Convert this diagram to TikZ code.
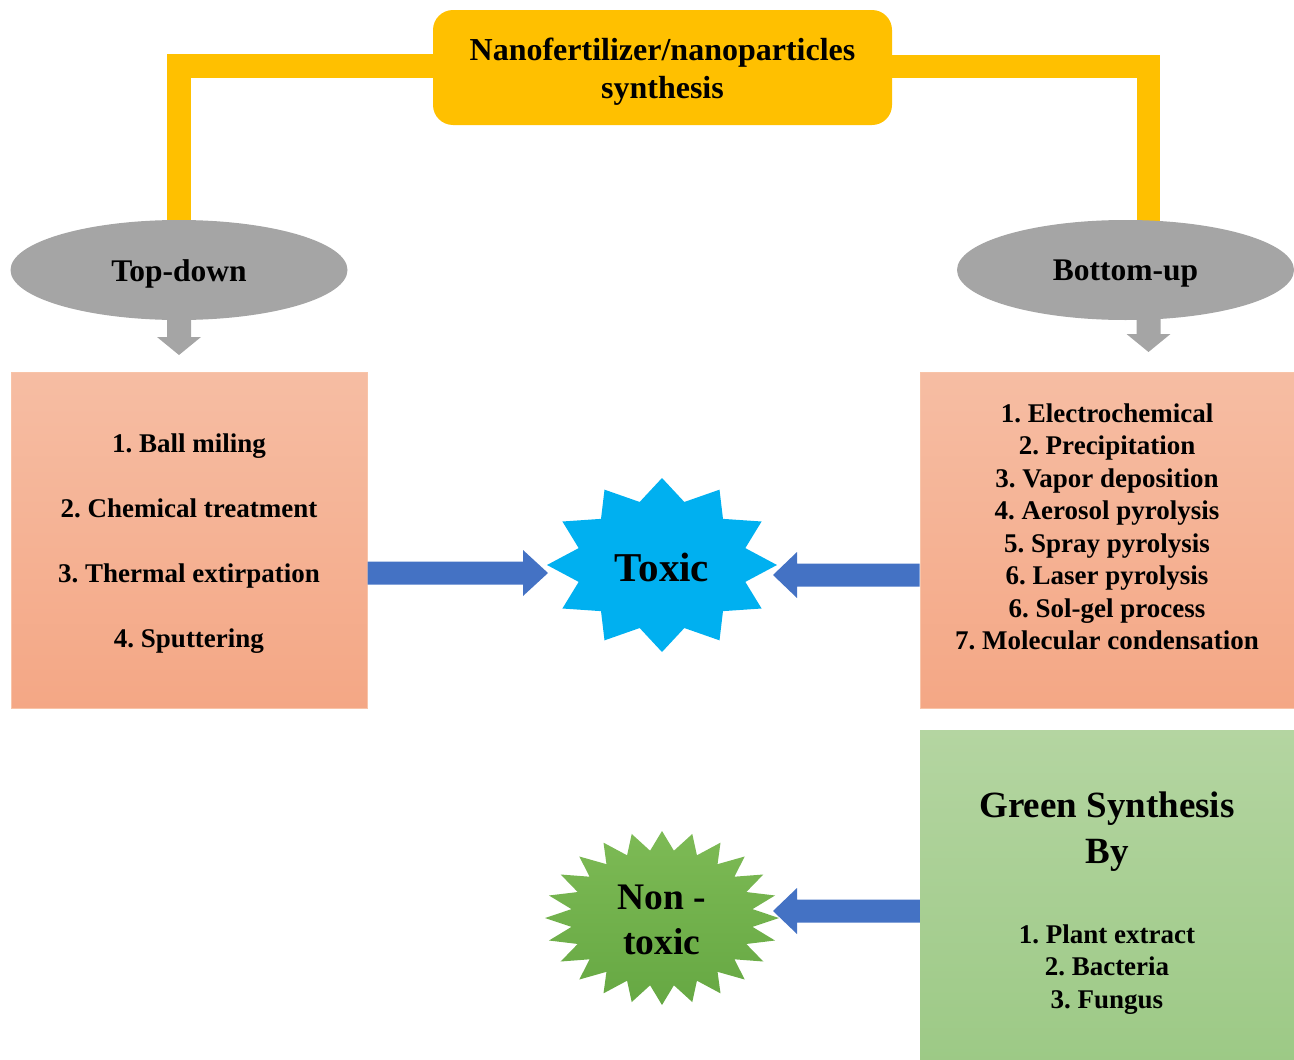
\documentclass[tikz,border=0pt]{standalone}
\usepackage{fontspec}
\setmainfont{Liberation Serif}
\frenchspacing
\usetikzlibrary{shapes.geometric,calc,backgrounds}
\definecolor{gold}{HTML}{FFC000}
\definecolor{ellgrey}{HTML}{A5A5A5}
\definecolor{orangetop}{HTML}{F6BDA3}
\definecolor{orangebot}{HTML}{F4A785}
\definecolor{orangeedge}{HTML}{F8C4A8}
\definecolor{arrowblue}{HTML}{4472C4}
\definecolor{toxicblue}{HTML}{00B0F0}
\definecolor{greentop}{HTML}{B4D5A1}
\definecolor{greenbot}{HTML}{9CC985}
\definecolor{startop}{HTML}{7DBA55}
\definecolor{starbot}{HTML}{66A843}
% horizontal block arrow: style, from, tip, signed head length
\newcommand\hblockarrow[4]{%
  \fill[#1] let \p1=(#2), \p2=(#3) in
    (\x1,\y1+11.5pt) -- ({\x2-(#4)},\y1+11.5pt) -- ({\x2-(#4)},\y1+23pt) -- (\x2,\y1)
    -- ({\x2-(#4)},\y1-23pt) -- ({\x2-(#4)},\y1-11.5pt) -- (\x1,\y1-11.5pt) -- cycle;}
% downward block arrow: from, tip
\newcommand\vblockarrow[2]{%
  \fill[ellgrey] let \p1=(#1), \p2=(#2) in
    (\x1-12pt,\y1) -- (\x1-12pt,\y2+18pt) -- (\x1-22pt,\y2+18pt) -- (\x1,\y2)
    -- (\x1+22pt,\y2+18pt) -- (\x1+12pt,\y2+18pt) -- (\x1+12pt,\y1) -- cycle;}
\begin{document}
\begin{tikzpicture}[x=1pt,y=-1pt,
  goldbar/.style={draw=gold,line width=24pt,line join=miter},
  titlebox/.style={fill=gold,rounded corners=20pt,minimum width=459pt,minimum height=115pt,
    inner sep=0pt},
  titletext/.style={align=center,inner sep=0pt,font={\fontsize{32}{38}\selectfont\bfseries}},
  ellip/.style={ellipse,fill=ellgrey,minimum width=337pt,minimum height=100pt,inner sep=0pt},
  elliptext/.style={inner sep=0pt,font={\fontsize{31.5}{36}\selectfont\bfseries}},
  methodbox/.style={rectangle,draw=orangeedge,line width=1pt,top color=orangetop,
    bottom color=orangebot,minimum height=336pt,inner sep=0pt},
  greenbox/.style={rectangle,top color=greentop,bottom color=greenbot,minimum width=374pt,
    minimum height=340pt,inner sep=0pt},
  listtext/.style={align=center,inner sep=0pt,font={\fontsize{27}{32.5}\selectfont\bfseries}},
  headtext/.style={align=center,inner sep=0pt,font={\fontsize{37}{46}\selectfont\bfseries}},
  startext/.style={align=center,inner sep=0pt,font={\fontsize{41}{45}\selectfont\bfseries}},
]
\useasboundingbox (0,0) rectangle (1294,1060);

% nodes
\node[titlebox] (title) at (662.5,67.5) {};
\node[titletext] (titlet) at (662.5,71.5) {Nanofertilizer/nanoparticles\\synthesis};
\node[ellip] (topdown) at (179,270) {};
\node[elliptext] (topdownt) at (179,274) {Top-down};
\node[ellip] (bottomup) at (1125.5,270) {};
\node[elliptext] (bottomupt) at (1125.5,274) {Bottom-up};
\node[methodbox,minimum width=356pt] (lbox) at (189,540) {};
\node[methodbox,minimum width=374pt] (rbox) at (1107,540) {};
\node[greenbox] (gbox) at (1107,900) {};

\node[listtext,font={\fontsize{27}{65}\selectfont\bfseries}] (ltext) at (189,544)
  {1. Ball miling\\2. Chemical treatment\\3. Thermal extirpation\\4. Sputtering};
\node[listtext] (rtext) at (1107,527)
  {1. Electrochemical\\2. Precipitation\\3. Vapor deposition\\4. Aerosol pyrolysis\\
   5. Spray pyrolysis\\6. Laser pyrolysis\\6. Sol-gel process\\7. Molecular condensation};
\node[headtext] (ghead) at (1107,832) {Green Synthesis\\By};
\node[listtext] (glist) at (1107,969.5) {1. Plant extract\\2. Bacteria\\3. Fungus};

% stars
\fill[toxicblue] plot[samples at={0,...,23},variable=\k]
  ({662+115*(1-0.25*mod(\k,2))*cos(90+15*\k)},{565-87*(1-0.25*mod(\k,2))*sin(90+15*\k)}) -- cycle;
\node[startext] (toxic) at (662,567) {Toxic};
\shade[top color=startop,bottom color=starbot] plot[samples at={0,...,47},variable=\k]
  ({662+117*(1-0.22*mod(\k,2))*cos(90+7.5*\k)},{918-87*(1-0.22*mod(\k,2))*sin(90+7.5*\k)}) -- cycle;
\node[startext,font={\fontsize{37.5}{45}\selectfont\bfseries}] (nontoxic) at (662,920) {Non -\\toxic};

% connector end points
\coordinate (toxicW) at (548,573);
\coordinate (toxicE) at (773,575);
\coordinate (nontoxicE) at (773,911);
\coordinate (a1s) at (lbox.east |- toxicW);
\coordinate (a2s) at (rbox.west |- toxicE);
\coordinate (a3s) at (gbox.west |- nontoxicE);
\coordinate (tdtip) at (179,355);
\coordinate (butip) at (1148.5,352);

% blue block arrows
\hblockarrow{arrowblue}{a1s}{toxicW}{25pt}
\hblockarrow{arrowblue}{a2s}{toxicE}{-24pt}
\hblockarrow{arrowblue}{a3s}{nontoxicE}{-24pt}

% background connectors
\begin{scope}[on background layer]
  \draw[goldbar] ([yshift=2pt]title.west) -| ([yshift=-10pt]topdown.north);
  \draw[goldbar,line width=23pt] ([yshift=1pt]title.east) -| ([xshift=23pt,yshift=-10pt]bottomup.north);
  \vblockarrow{[yshift=5pt]topdown.south}{tdtip}
  \vblockarrow{[xshift=23pt,yshift=5pt]bottomup.south}{butip}
\end{scope}
\end{tikzpicture}
\end{document}
